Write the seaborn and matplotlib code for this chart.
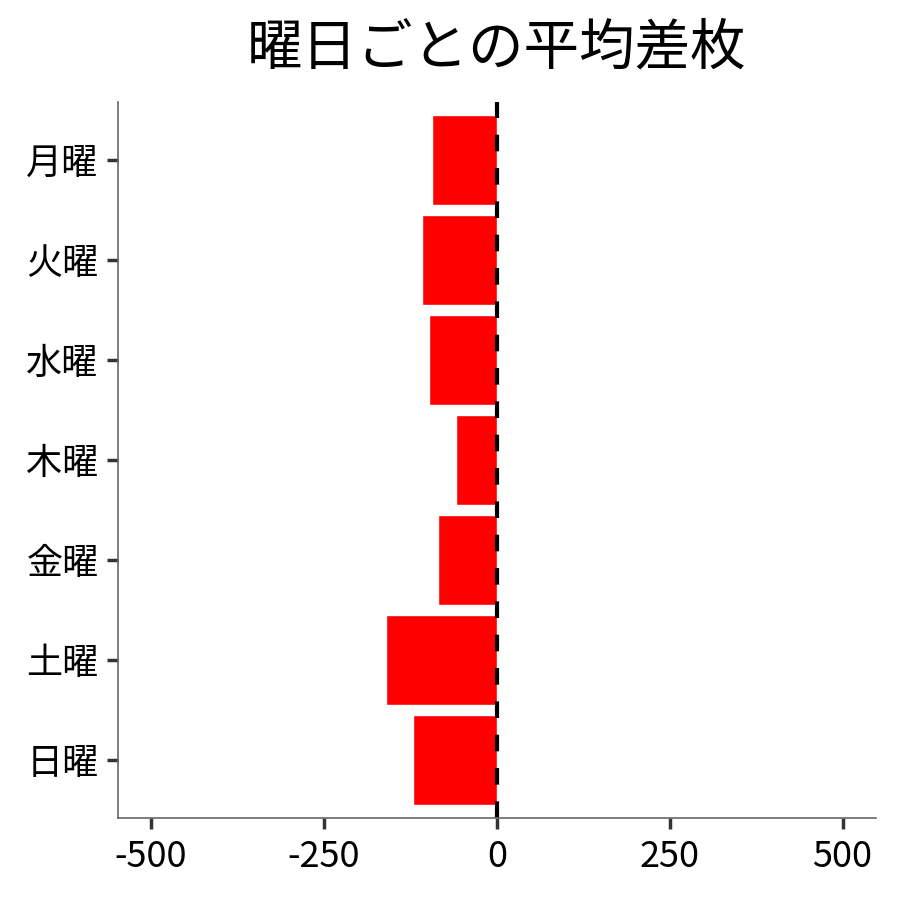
import matplotlib
matplotlib.use('Agg')
import matplotlib.pyplot as plt
import seaborn as sns
import pandas as pd

# Average difference per weekday
days = ['月曜', '火曜', '水曜', '木曜', '金曜', '土曜', '日曜']
avg_diff = [-94, -108, -98, -59, -85, -160, -121]

df = pd.DataFrame({'曜日': days, '平均差枚': avg_diff})

sns.set_style('white')
plt.rcParams['font.family'] = ['Noto Sans CJK JP', 'DejaVu Sans']

fig, ax = plt.subplots(figsize=(9, 9), dpi=100)
sns.barplot(data=df, x='平均差枚', y='曜日', color='#ff0000', saturation=1,
            width=0.9, ax=ax, order=days)
ax.axvline(0, color='black', linestyle='--', linewidth=3, dashes=(4, 4))

ax.set_xlim(-548, 548)
ax.set_ylim(6.58, -0.58)
ax.set_xticks([-500, -250, 0, 250, 500])
ax.set_xticklabels(['-500', '-250', '0', '250', '500'])
ax.set_xlabel('')
ax.set_ylabel('')
ax.set_title('曜日ごとの平均差枚', fontsize=40, pad=27, color='black')

ax.tick_params(axis='both', labelsize=26, length=8, width=2.5, color='#333333',
               labelcolor='black', direction='out', bottom=True, left=True)
ax.tick_params(axis='y', pad=6)
ax.tick_params(axis='x', pad=7)
sns.despine(ax=ax)
for side in ['left', 'bottom']:
    ax.spines[side].set_color('#666666')
    ax.spines[side].set_linewidth(1.2)

plt.subplots_adjust(left=0.131, right=0.973, top=0.887, bottom=0.091)
plt.savefig('out.png', dpi=100)
